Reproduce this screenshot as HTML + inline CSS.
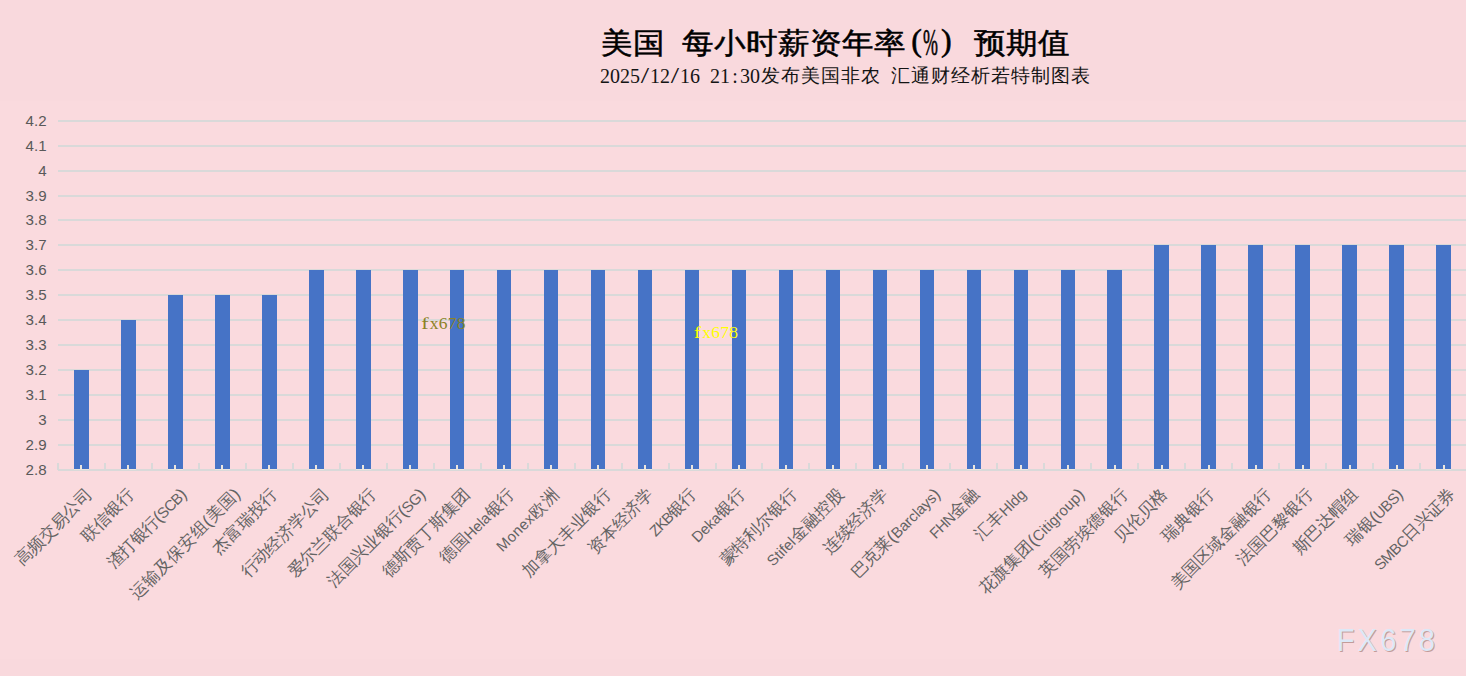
<!DOCTYPE html>
<html lang="zh"><head><meta charset="utf-8"><title>美国 每小时薪资年率(%) 预期值</title>
<style>html,body{margin:0;padding:0;background:#F9D9DD;}body{width:1466px;height:676px;overflow:hidden;}svg{display:block;}.s{font-family:"Liberation Sans",sans-serif;}.r{font-family:"Liberation Serif",serif;}</style></head><body>
<svg width="1466" height="676" viewBox="0 0 1466 676">
<rect x="0" y="0" width="1466" height="676" fill="#F9D9DD"/>
<rect x="0" y="101" width="1466" height="558" fill="#FADADE"/>
<g fill="#D9D9D9">
<rect x="58" y="120" width="1408" height="2"/>
<rect x="58" y="145" width="1408" height="2"/>
<rect x="58" y="170" width="1408" height="2"/>
<rect x="58" y="195" width="1408" height="2"/>
<rect x="58" y="219" width="1408" height="2"/>
<rect x="58" y="244" width="1408" height="2"/>
<rect x="58" y="269" width="1408" height="2"/>
<rect x="58" y="294" width="1408" height="2"/>
<rect x="58" y="319" width="1408" height="2"/>
<rect x="58" y="344" width="1408" height="2"/>
<rect x="58" y="369" width="1408" height="2"/>
<rect x="58" y="394" width="1408" height="2"/>
<rect x="58" y="419" width="1408" height="2"/>
<rect x="58" y="444" width="1408" height="2"/>
<rect x="58" y="469" width="1408" height="2"/>
<rect x="57" y="463" width="2" height="7"/>
<rect x="104" y="463" width="2" height="7"/>
<rect x="151" y="463" width="2" height="7"/>
<rect x="198" y="463" width="2" height="7"/>
<rect x="245" y="463" width="2" height="7"/>
<rect x="292" y="463" width="2" height="7"/>
<rect x="339" y="463" width="2" height="7"/>
<rect x="386" y="463" width="2" height="7"/>
<rect x="433" y="463" width="2" height="7"/>
<rect x="480" y="463" width="2" height="7"/>
<rect x="527" y="463" width="2" height="7"/>
<rect x="574" y="463" width="2" height="7"/>
<rect x="621" y="463" width="2" height="7"/>
<rect x="668" y="463" width="2" height="7"/>
<rect x="715" y="463" width="2" height="7"/>
<rect x="761" y="463" width="2" height="7"/>
<rect x="808" y="463" width="2" height="7"/>
<rect x="855" y="463" width="2" height="7"/>
<rect x="902" y="463" width="2" height="7"/>
<rect x="949" y="463" width="2" height="7"/>
<rect x="996" y="463" width="2" height="7"/>
<rect x="1043" y="463" width="2" height="7"/>
<rect x="1090" y="463" width="2" height="7"/>
<rect x="1137" y="463" width="2" height="7"/>
<rect x="1184" y="463" width="2" height="7"/>
<rect x="1231" y="463" width="2" height="7"/>
<rect x="1278" y="463" width="2" height="7"/>
<rect x="1325" y="463" width="2" height="7"/>
<rect x="1372" y="463" width="2" height="7"/>
<rect x="1419" y="463" width="2" height="7"/>
<rect x="1466" y="463" width="2" height="7"/>
</g>
<g fill="#4673C6">
<rect x="74" y="370" width="15" height="99"/>
<rect x="121" y="320" width="15" height="149"/>
<rect x="168" y="295" width="15" height="174"/>
<rect x="215" y="295" width="15" height="174"/>
<rect x="262" y="295" width="15" height="174"/>
<rect x="309" y="270" width="15" height="199"/>
<rect x="356" y="270" width="15" height="199"/>
<rect x="403" y="270" width="15" height="199"/>
<rect x="450" y="270" width="14" height="199"/>
<rect x="497" y="270" width="14" height="199"/>
<rect x="544" y="270" width="14" height="199"/>
<rect x="591" y="270" width="14" height="199"/>
<rect x="638" y="270" width="14" height="199"/>
<rect x="685" y="270" width="14" height="199"/>
<rect x="732" y="270" width="14" height="199"/>
<rect x="779" y="270" width="14" height="199"/>
<rect x="826" y="270" width="14" height="199"/>
<rect x="873" y="270" width="14" height="199"/>
<rect x="920" y="270" width="14" height="199"/>
<rect x="967" y="270" width="14" height="199"/>
<rect x="1014" y="270" width="14" height="199"/>
<rect x="1061" y="270" width="14" height="199"/>
<rect x="1107" y="270" width="15" height="199"/>
<rect x="1154" y="245" width="15" height="224"/>
<rect x="1201" y="245" width="15" height="224"/>
<rect x="1248" y="245" width="15" height="224"/>
<rect x="1295" y="245" width="15" height="224"/>
<rect x="1342" y="245" width="15" height="224"/>
<rect x="1389" y="245" width="15" height="224"/>
<rect x="1436" y="245" width="15" height="224"/>
</g>
<g fill="#ECE6DE">
<rect x="74" y="469" width="15" height="1"/>
<rect x="80" y="465" width="2" height="5"/>
<rect x="121" y="469" width="15" height="1"/>
<rect x="127" y="465" width="2" height="5"/>
<rect x="168" y="469" width="15" height="1"/>
<rect x="174" y="465" width="2" height="5"/>
<rect x="215" y="469" width="15" height="1"/>
<rect x="221" y="465" width="2" height="5"/>
<rect x="262" y="469" width="15" height="1"/>
<rect x="268" y="465" width="2" height="5"/>
<rect x="309" y="469" width="15" height="1"/>
<rect x="315" y="465" width="2" height="5"/>
<rect x="356" y="469" width="15" height="1"/>
<rect x="362" y="465" width="2" height="5"/>
<rect x="403" y="469" width="15" height="1"/>
<rect x="409" y="465" width="2" height="5"/>
<rect x="450" y="469" width="14" height="1"/>
<rect x="456" y="465" width="2" height="5"/>
<rect x="497" y="469" width="14" height="1"/>
<rect x="503" y="465" width="2" height="5"/>
<rect x="544" y="469" width="14" height="1"/>
<rect x="550" y="465" width="2" height="5"/>
<rect x="591" y="469" width="14" height="1"/>
<rect x="597" y="465" width="2" height="5"/>
<rect x="638" y="469" width="14" height="1"/>
<rect x="644" y="465" width="2" height="5"/>
<rect x="685" y="469" width="14" height="1"/>
<rect x="691" y="465" width="2" height="5"/>
<rect x="732" y="469" width="14" height="1"/>
<rect x="738" y="465" width="2" height="5"/>
<rect x="779" y="469" width="14" height="1"/>
<rect x="785" y="465" width="2" height="5"/>
<rect x="826" y="469" width="14" height="1"/>
<rect x="832" y="465" width="2" height="5"/>
<rect x="873" y="469" width="14" height="1"/>
<rect x="879" y="465" width="2" height="5"/>
<rect x="920" y="469" width="14" height="1"/>
<rect x="926" y="465" width="2" height="5"/>
<rect x="967" y="469" width="14" height="1"/>
<rect x="973" y="465" width="2" height="5"/>
<rect x="1014" y="469" width="14" height="1"/>
<rect x="1020" y="465" width="2" height="5"/>
<rect x="1061" y="469" width="14" height="1"/>
<rect x="1067" y="465" width="2" height="5"/>
<rect x="1107" y="469" width="15" height="1"/>
<rect x="1114" y="465" width="2" height="5"/>
<rect x="1154" y="469" width="15" height="1"/>
<rect x="1161" y="465" width="2" height="5"/>
<rect x="1201" y="469" width="15" height="1"/>
<rect x="1208" y="465" width="2" height="5"/>
<rect x="1248" y="469" width="15" height="1"/>
<rect x="1255" y="465" width="2" height="5"/>
<rect x="1295" y="469" width="15" height="1"/>
<rect x="1302" y="465" width="2" height="5"/>
<rect x="1342" y="469" width="15" height="1"/>
<rect x="1349" y="465" width="2" height="5"/>
<rect x="1389" y="469" width="15" height="1"/>
<rect x="1396" y="465" width="2" height="5"/>
<rect x="1436" y="469" width="15" height="1"/>
<rect x="1443" y="465" width="2" height="5"/>
</g>
<g class="s" font-size="15.5" fill="#595959" text-anchor="end">
<text transform="translate(46.6 126) scale(0.975 1)">4.2</text>
<text transform="translate(46.6 151) scale(0.975 1)">4.1</text>
<text transform="translate(46.6 176) scale(0.975 1)">4</text>
<text transform="translate(46.6 201) scale(0.975 1)">3.9</text>
<text transform="translate(46.6 225) scale(0.975 1)">3.8</text>
<text transform="translate(46.6 250) scale(0.975 1)">3.7</text>
<text transform="translate(46.6 275) scale(0.975 1)">3.6</text>
<text transform="translate(46.6 300) scale(0.975 1)">3.5</text>
<text transform="translate(46.6 325) scale(0.975 1)">3.4</text>
<text transform="translate(46.6 350) scale(0.975 1)">3.3</text>
<text transform="translate(46.6 375) scale(0.975 1)">3.2</text>
<text transform="translate(46.6 400) scale(0.975 1)">3.1</text>
<text transform="translate(46.6 425) scale(0.975 1)">3</text>
<text transform="translate(46.6 450) scale(0.975 1)">2.9</text>
<text transform="translate(46.6 475) scale(0.975 1)">2.8</text>
</g>
<g class="s" font-size="16.75" fill="#636363" text-anchor="end">
<text transform="translate(93.2 495.3) rotate(-45)" textLength="100.5" lengthAdjust="spacing">高频交易公司</text>
<text transform="translate(135.1 495.3) rotate(-45)" textLength="67.0" lengthAdjust="spacing">联信银行</text>
<text transform="translate(187.7 495.3) rotate(-45)" textLength="104.7" lengthAdjust="spacing">渣打银行<tspan font-size="17">(</tspan><tspan font-size="15">SCB</tspan><tspan font-size="17">)</tspan></text>
<text transform="translate(241.2 495.3) rotate(-45)" textLength="147.7" lengthAdjust="spacing">运输及保安组<tspan font-size="17">(</tspan>美国<tspan font-size="17">)</tspan></text>
<text transform="translate(278.5 495.3) rotate(-45)" textLength="83.8" lengthAdjust="spacing">杰富瑞投行</text>
<text transform="translate(330.5 495.3) rotate(-45)" textLength="117.2" lengthAdjust="spacing">行动经济学公司</text>
<text transform="translate(377.5 495.3) rotate(-45)" textLength="117.2" lengthAdjust="spacing">爱尔兰联合银行</text>
<text transform="translate(426.5 495.3) rotate(-45)" textLength="130.7" lengthAdjust="spacing">法国兴业银行<tspan font-size="17">(</tspan><tspan font-size="15">SG</tspan><tspan font-size="17">)</tspan></text>
<text transform="translate(471.4 495.3) rotate(-45)" textLength="117.2" lengthAdjust="spacing">德斯贾丁斯集团</text>
<text transform="translate(515.5 495.3) rotate(-45)" textLength="97.6" lengthAdjust="spacing">德国<tspan font-size="15">Hela</tspan>银行</text>
<text transform="translate(559.9 495.3) rotate(-45)" textLength="81.0" lengthAdjust="spacing"><tspan font-size="15">Monex</tspan>欧洲</text>
<text transform="translate(612.3 495.3) rotate(-45)" textLength="117.2" lengthAdjust="spacing">加拿大丰业银行</text>
<text transform="translate(654.3 495.3) rotate(-45)" textLength="83.8" lengthAdjust="spacing">资本经济学</text>
<text transform="translate(697.5 495.3) rotate(-45)" textLength="59.2" lengthAdjust="spacing"><tspan font-size="15">ZKB</tspan>银行</text>
<text transform="translate(745.8 495.3) rotate(-45)" textLength="67.8" lengthAdjust="spacing"><tspan font-size="15">Deka</tspan>银行</text>
<text transform="translate(797.7 495.3) rotate(-45)" textLength="100.5" lengthAdjust="spacing">蒙特利尔银行</text>
<text transform="translate(844.8 495.3) rotate(-45)" textLength="101.4" lengthAdjust="spacing"><tspan font-size="15">Stifel</tspan>金融控股</text>
<text transform="translate(889.1 495.3) rotate(-45)" textLength="83.8" lengthAdjust="spacing">连续经济学</text>
<text transform="translate(941.2 495.3) rotate(-45)" textLength="118.3" lengthAdjust="spacing">巴克莱<tspan font-size="17">(</tspan><tspan font-size="15">Barclays</tspan><tspan font-size="17">)</tspan></text>
<text transform="translate(979.8 495.3) rotate(-45)" textLength="62.4" lengthAdjust="spacing"><tspan font-size="15">FHN</tspan>金融</text>
<text transform="translate(1027.1 495.3) rotate(-45)" textLength="64.5" lengthAdjust="spacing">汇丰<tspan font-size="15">Hldg</tspan></text>
<text transform="translate(1085.6 495.3) rotate(-45)" textLength="141.3" lengthAdjust="spacing">花旗集团<tspan font-size="17">(</tspan><tspan font-size="15">Citigroup</tspan><tspan font-size="17">)</tspan></text>
<text transform="translate(1129.0 495.3) rotate(-45)" textLength="117.2" lengthAdjust="spacing">英国劳埃德银行</text>
<text transform="translate(1168.4 495.3) rotate(-45)" textLength="67.0" lengthAdjust="spacing">贝伦贝格</text>
<text transform="translate(1215.4 495.3) rotate(-45)" textLength="67.0" lengthAdjust="spacing">瑞典银行</text>
<text transform="translate(1272.4 495.3) rotate(-45)" textLength="134.0" lengthAdjust="spacing">美国区域金融银行</text>
<text transform="translate(1314.3 495.3) rotate(-45)" textLength="100.5" lengthAdjust="spacing">法国巴黎银行</text>
<text transform="translate(1358.8 495.3) rotate(-45)" textLength="83.8" lengthAdjust="spacing">斯巴达帽组</text>
<text transform="translate(1404.1 495.3) rotate(-45)" textLength="73.0" lengthAdjust="spacing">瑞银<tspan font-size="17">(</tspan><tspan font-size="15">UBS</tspan><tspan font-size="17">)</tspan></text>
<text transform="translate(1456.2 495.3) rotate(-45)" textLength="107.1" lengthAdjust="spacing"><tspan font-size="15">SMBC</tspan>日兴证券</text>
</g>
<g class="r" font-size="32" fill="#000" stroke="#000" stroke-width="0.55" text-anchor="middle">
<text transform="translate(617.0 52.7) scale(1 0.92)">美</text>
<text transform="translate(649.0 52.7) scale(1 0.92)">国</text>
<text transform="translate(698.0 52.7) scale(1 0.92)">每</text>
<text transform="translate(730.0 52.7) scale(1 0.92)">小</text>
<text transform="translate(762.0 52.7) scale(1 0.92)">时</text>
<text transform="translate(794.0 52.7) scale(1 0.92)">薪</text>
<text transform="translate(826.0 52.7) scale(1 0.92)">资</text>
<text transform="translate(858.0 52.7) scale(1 0.92)">年</text>
<text transform="translate(890.0 52.7) scale(1 0.92)">率</text>
<text x="916.7" y="50.7">(</text>
<text transform="translate(930.5 55.2) scale(0.56 1.2)">%</text>
<text x="946.3" y="50.7">)</text>
<text transform="translate(990.0 52.7) scale(1 0.92)">预</text>
<text transform="translate(1022.0 52.7) scale(1 0.92)">期</text>
<text transform="translate(1054.0 52.7) scale(1 0.92)">值</text>
</g>
<g class="r" font-size="20" fill="#141414" text-anchor="middle">
<text x="605.0" y="82.5">2</text>
<text x="615.0" y="82.5">0</text>
<text x="625.0" y="82.5">2</text>
<text x="635.0" y="82.5">5</text>
<text transform="translate(645.0 82.8) scale(1.5 1.2)">/</text>
<text x="655.0" y="82.5">1</text>
<text x="665.0" y="82.5">2</text>
<text transform="translate(675.0 82.8) scale(1.5 1.2)">/</text>
<text x="685.0" y="82.5">1</text>
<text x="695.0" y="82.5">6</text>
<text x="715.0" y="82.5">2</text>
<text x="725.0" y="82.5">1</text>
<text x="735.0" y="82.5">:</text>
<text x="745.0" y="82.5">3</text>
<text x="755.0" y="82.5">0</text>
<text x="770.0" y="82.3" font-size="19">发</text>
<text x="790.0" y="82.3" font-size="19">布</text>
<text x="810.0" y="82.3" font-size="19">美</text>
<text x="830.0" y="82.3" font-size="19">国</text>
<text x="850.0" y="82.3" font-size="19">非</text>
<text x="870.0" y="82.3" font-size="19">农</text>
<text x="900.0" y="82.3" font-size="19">汇</text>
<text x="920.0" y="82.3" font-size="19">通</text>
<text x="940.0" y="82.3" font-size="19">财</text>
<text x="960.0" y="82.3" font-size="19">经</text>
<text x="980.0" y="82.3" font-size="19">析</text>
<text x="1000.0" y="82.3" font-size="19">若</text>
<text x="1020.0" y="82.3" font-size="19">特</text>
<text x="1040.0" y="82.3" font-size="19">制</text>
<text x="1060.0" y="82.3" font-size="19">图</text>
<text x="1080.0" y="82.3" font-size="19">表</text>
</g>
<g class="r" font-size="17.5" fill="#8A8326" text-anchor="middle"><text transform="translate(425.0 329.0) scale(1.27 0.93)">f</text><text transform="translate(434.0 329.0) scale(1 1)">x</text><text transform="translate(443.0 329.0) scale(1 1)">6</text><text transform="translate(452.0 329.0) scale(1 1)">7</text><text transform="translate(461.0 329.0) scale(1 1)">8</text></g>
<g class="r" font-size="17.5" fill="#FFFF00" text-anchor="middle"><text transform="translate(697.5 338.0) scale(1.27 0.93)">f</text><text transform="translate(706.5 338.0) scale(1 1)">x</text><text transform="translate(715.5 338.0) scale(1 1)">6</text><text transform="translate(724.5 338.0) scale(1 1)">7</text><text transform="translate(733.5 338.0) scale(1 1)">8</text></g>
<g class="s" font-size="29" letter-spacing="3.2"><text transform="translate(1337.7 652.1) scale(1 1.08)" fill="#C39C99">FX678</text><text transform="translate(1336.7 651.1) scale(1 1.08)" fill="#DCE8F7">FX678</text></g>
</svg></body></html>
